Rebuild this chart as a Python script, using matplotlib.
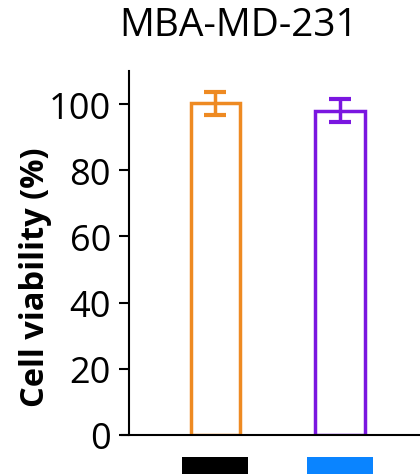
import matplotlib
matplotlib.use("Agg")
import matplotlib.pyplot as plt
from matplotlib.patches import Rectangle
from matplotlib.transforms import blended_transform_factory

groups = ["Control", "Treated"]
viability = [100.2, 98.0]
errors = [3.4, 3.5]
edge_colors = ["#EE8A22", "#7A16E0"]
indicator_colors = ["#000000", "#0A84FF"]
title = "MBA-MD-231"
ylabel = "Cell viability (%)"
yticks = [0, 20, 40, 60, 80, 100]

plt.rcParams["font.family"] = ["Open Sans", "DejaVu Sans"]

fig = plt.figure(figsize=(4.2, 4.77), dpi=100)
ax = fig.add_axes([0.307, 0.086, 0.693, 0.763])

x = list(range(len(groups)))
width = 0.40
ax.bar(x, viability, width=width, facecolor="white", edgecolor=edge_colors,
       linewidth=2.5, zorder=2)
for xi, v, e, c in zip(x, viability, errors, edge_colors):
    ax.errorbar(xi, v, yerr=e, fmt="none", ecolor=c, elinewidth=2.5,
                capsize=8, capthick=3, zorder=3)

ax.set_xlim(-0.695, 1.643)
ax.set_ylim(0, 110)
ax.set_yticks(yticks)
ax.set_xticks([])
ax.tick_params(axis="y", labelsize=26, length=7, width=1.5, pad=6)
ax.spines["top"].set_visible(False)
ax.spines["right"].set_visible(False)
ax.spines["left"].set_linewidth(1.5)
ax.spines["bottom"].set_linewidth(1.5)
ax.spines["bottom"].set_bounds(-0.75, 1.643)
ax.spines["bottom"].set_position(("data", 0))

ax.set_ylabel(ylabel, fontsize=23.5, fontweight="bold")
ax.yaxis.set_label_coords(-0.265, 0.436)
fig.suptitle(title, fontsize=28, x=0.568, y=0.985, va="top")

# group indicator blocks beneath the axis
trans = blended_transform_factory(ax.transData, fig.transFigure)
for xi, c in zip(x, indicator_colors):
    ax.add_patch(Rectangle((xi - 0.265, 0.004), 0.53, 0.036, transform=trans,
                           facecolor=c, edgecolor="none", clip_on=False))

fig.savefig("out.png", dpi=100)
